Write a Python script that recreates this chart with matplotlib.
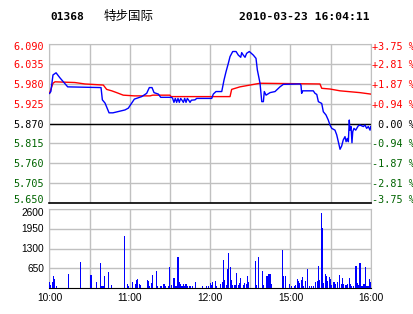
import matplotlib
matplotlib.use("Agg")
import matplotlib.pyplot as plt

# --- data (x = trading minutes since 10:00, 240 in all) ---
price_levels = [6.090, 6.035, 5.980, 5.925, 5.870, 5.815, 5.760, 5.705, 5.650]
price_labels = ["6.090", "6.035", "5.980", "5.925", "5.870", "5.815", "5.760", "5.705", "5.650"]
pct_labels = ["+3.75 %", "+2.81 %", "+1.87 %", "+0.94 %", " 0.00 %",
              "-0.94 %", "-1.87 %", "-2.81 %", "-3.75 %"]
prev_close = 5.870

vol_levels = [650, 1300, 1950, 2600]
vol_labels = ["650", "1300", "1950", "2600"]

time_ticks = [0, 60, 120, 180, 240]
time_labels = ["10:00", "11:00", "12:00", "15:00", "16:00"]

price_min = [0, 1, 2.6, 4.9, 7.8, 13.6, 38.5, 39.5, 41.5, 44.5, 47.4, 56.4, 58.9, 63.4,
             68.9, 72.6, 74.6, 76.6, 78.1, 81.3, 83.1, 91.3,
             92, 93, 94, 95, 96, 97, 98, 99, 100, 101, 102, 103, 104, 105, 106, 108.7,
             110, 121.2, 122.4, 124.4, 128.7, 130.4, 131.9, 133.6, 134.9, 136.9, 139.4,
             141.1, 142.9, 143.6, 144.8, 146.1, 147.3, 149.3, 152.3, 154.3, 155.3, 157.3,
             158.6, 159.8, 160.5, 161.8, 164.8, 168.5, 172.2, 174.7, 187.2, 187.9, 188.4,
             189.2, 197.1, 198.4, 199.7, 200.9, 203.4, 204.6, 206.6, 208.3, 209.6, 210.9,
             213.3, 214.6, 215.8, 217.1, 218.3, 219.5, 220.8, 221.6, 222.5, 223.3, 224.0,
             224.5, 225.3, 226.0, 226.6, 227.5, 228.8, 230.7, 232.0, 234.5, 235.7, 237.0,
             238.2, 239.5, 240]
price = [5.954, 5.959, 6.005, 6.011, 5.997, 5.972, 5.970, 5.936, 5.927, 5.900, 5.900,
         5.908, 5.913, 5.938, 5.945, 5.954, 5.970, 5.970, 5.956, 5.952, 5.943, 5.943,
         5.940, 5.929, 5.940, 5.929, 5.940, 5.929, 5.940, 5.935, 5.929, 5.940, 5.929,
         5.940, 5.935, 5.929, 5.935, 5.936,
         5.940, 5.940, 5.952, 5.959, 5.959, 5.991, 6.014, 6.037, 6.056, 6.070, 6.070,
         6.060, 6.054, 6.067, 6.060, 6.054, 6.065, 6.070, 6.060, 6.051, 6.019, 5.982,
         5.931, 5.931, 5.959, 5.949, 5.956, 5.959, 5.972, 5.979, 5.980, 5.977, 5.954,
         5.961, 5.961, 5.954, 5.951, 5.931, 5.926, 5.903, 5.894, 5.880, 5.866, 5.857,
         5.852, 5.839, 5.820, 5.799, 5.808, 5.825, 5.834, 5.820, 5.829, 5.820, 5.880,
         5.852, 5.862, 5.817, 5.848, 5.857, 5.852, 5.864, 5.866, 5.862, 5.866, 5.857,
         5.862, 5.852, 5.862]

avg_min = [0, 2.6, 4.1, 19, 26.5, 40.2, 42.7, 46.5, 50.2, 55.1, 63.4, 75.1, 77.1, 90,
           90.8, 134.9, 136.1, 142.3, 149.8, 157.3, 202.1, 203.4, 209.6, 217.1, 232, 240]
avg_price = [5.954, 5.982, 5.986, 5.984, 5.980, 5.977, 5.965, 5.961, 5.956, 5.949, 5.947,
             5.947, 5.949, 5.949, 5.945, 5.945, 5.965, 5.972, 5.977, 5.982, 5.980, 5.968,
             5.966, 5.961, 5.956, 5.952]

vol_min = [0, 1, 2, 3, 4, 5, 14, 23, 31, 35, 38, 39, 40, 41, 44, 46, 56, 58, 59, 62, 64,
           65, 66, 67, 68, 73, 74, 75, 76, 77, 80, 81, 83, 84, 85, 86, 87, 89, 90, 91, 93,
           94, 95, 96, 97, 98, 99, 100, 101, 102, 103, 105, 107, 109, 114, 117, 119, 120,
           121, 122, 124, 125, 128, 129, 130, 131, 132, 133, 134, 135, 136, 137, 138, 139,
           140, 141, 142, 143, 145, 146, 147, 148, 149, 154, 155, 156, 159, 160, 162, 163,
           164, 165, 166, 174, 175, 176, 179, 181, 183, 184, 185, 186, 187, 188, 189, 190,
           191, 193, 194, 196, 197, 199, 200, 201, 202, 203, 204, 205, 206, 207, 208, 209,
           210, 211, 212, 213, 214, 215, 217, 218, 219, 220, 221, 222, 223, 224, 225, 226,
           227, 229, 230, 231, 232, 233, 234, 235, 236, 237, 238, 239, 240]
volume = [197, 110, 197, 406, 307, 66, 472, 867, 439, 197, 834, 77, 77, 406, 538, 110,
          1722, 143, 77, 197, 143, 274, 307, 143, 110, 274, 241, 77, 165, 439, 570, 66, 66,
          66, 132, 132, 66, 66, 702, 99, 329, 66, 66, 1020, 197, 132, 66, 132, 66, 132, 66,
          66, 66, 197, 66, 66, 66, 165, 99, 197, 230, 66, 132, 197, 932, 263, 99, 636, 1163,
          702, 263, 99, 99, 99, 494, 99, 165, 329, 99, 165, 132, 406, 197, 900, 99, 1031,
          548, 110, 384, 384, 472, 472, 143, 1262, 406, 384, 143, 77, 77, 110, 307, 241,
          165, 274, 362, 77, 219, 636, 77, 77, 77, 208, 241, 735, 274, 2479, 1986, 165, 472,
          406, 219, 362, 307, 110, 186, 186, 143, 186, 439, 143, 340, 143, 110, 110, 143,
          329, 143, 77, 77, 713, 165, 110, 823, 77, 77, 143, 691, 77, 77, 296, 186]

GRID = "#c0c0c0"
RED = "#ff0000"
GREEN = "#006400"
BLUE = "#0000ff"
MONO = "DejaVu Sans Mono"
SANS = "Liberation Sans"
PX = 0.72  # one pixel in points at dpi 100


def level_color(lev):
    if lev > prev_close:
        return RED
    if lev == prev_close:
        return "black"
    return GREEN


fig = plt.figure(figsize=(4.14, 3.14), dpi=100)
fig.patch.set_facecolor("white")

# title row
fig.text(50 / 414, 1 - 17 / 314, "01368", family=MONO, weight="bold", size=8,
         va="center", ha="left")
fig.text(104 / 414, 1 - 16 / 314, "特步国际", family=["Noto Sans CJK SC", "DejaVu Sans"],
         size=9, va="center", ha="left")
fig.text(370 / 414, 1 - 17 / 314, "2010-03-23 16:04:11", family=MONO, weight="bold",
         size=8.2, va="center", ha="right")

# --- price panel ---
ax = fig.add_axes([49.5 / 414, 1 - 203 / 314, 321.2 / 414, 158.7 / 314])
ax.plot(avg_min, avg_price, color=RED, lw=1.0, zorder=3)
ax.plot(price_min, price, color=BLUE, lw=1.0, zorder=4)
ax.axhline(prev_close, color="black", lw=1.0, zorder=2)
ax.set_xlim(0, 240)
ax.set_ylim(5.650, 6.090)
ax.set_xticks(range(0, 241, 30))
ax.set_yticks(price_levels)
ax.set_xticklabels([])
ax.set_yticklabels([])
ax.tick_params(axis="both", length=0)
ax.grid(True, color=GRID, lw=1.0, zorder=0)
for s in ["top", "left", "right"]:
    ax.spines[s].set_color(GRID)
ax.spines["bottom"].set_color("black")
ax.spines["bottom"].set_linewidth(1.2)

# labels on both sides, nudged like the original (top one down, bottom one up)
n = len(price_levels)
for i, (lev, lab, pct) in enumerate(zip(price_levels, price_labels, pct_labels)):
    dy = -1 * PX
    if i == 0:
        dy = -2.5 * PX
    elif i == n - 1:
        dy = 3 * PX
    col = level_color(lev)
    ax.annotate(lab, xy=(0, lev), xycoords=("axes fraction", "data"),
                xytext=(-5.5 * PX, dy), textcoords="offset points",
                ha="right", va="center", family=MONO, size=7.3, color=col)
    ax.annotate(pct, xy=(1, lev), xycoords=("axes fraction", "data"),
                xytext=(1 * PX, dy), textcoords="offset points",
                ha="left", va="center", family=MONO, size=7.3, color=col)

# --- volume panel ---
axv = fig.add_axes([49.5 / 414, 1 - 288 / 314, 321.2 / 414, 79 / 314])
axv.bar(vol_min, volume, width=0.8, color=BLUE, antialiased=False, zorder=3)
axv.set_xlim(0, 240)
axv.set_ylim(0, 2600)
axv.set_xticks(range(0, 241, 30))
axv.set_xticklabels([])
axv.set_yticks(vol_levels)
axv.set_yticklabels([])
axv.tick_params(axis="both", length=0)
axv.grid(True, color=GRID, lw=1.0, zorder=0)
for s in ["top", "left", "right"]:
    axv.spines[s].set_color(GRID)
axv.spines["bottom"].set_color("black")

for lev, lab in zip(vol_levels, vol_labels):
    dy = -4.5 * PX if lev == vol_levels[-1] else -0.5 * PX
    axv.annotate(lab, xy=(0, lev), xycoords=("axes fraction", "data"),
                 xytext=(-5.5 * PX, dy), textcoords="offset points",
                 ha="right", va="center", family=SANS, size=7.3, color="black")

for t, lab in zip(time_ticks, time_labels):
    axv.annotate(lab, xy=(t, 0), xycoords=("data", "axes fraction"),
                 xytext=(0, -10 * PX), textcoords="offset points",
                 ha="center", va="center", family=SANS, size=7.3, color="black")

fig.savefig("out.png", dpi=100)
